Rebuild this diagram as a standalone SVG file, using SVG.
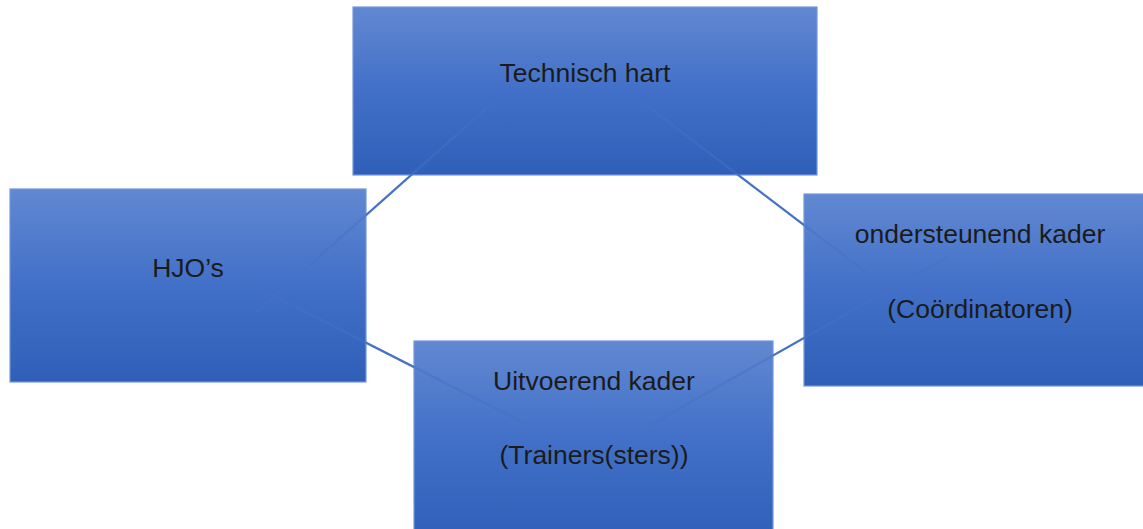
<svg xmlns="http://www.w3.org/2000/svg" width="1143" height="529" viewBox="0 0 1143 529">
<style>
.box{fill:url(#g);stroke:#7297da;stroke-width:1.2}
.lbl{font-family:"Liberation Sans",Arial,sans-serif;font-size:26.5px;fill:#1b1b1b;text-anchor:middle}
.con{fill:none;stroke:#4472c4;stroke-width:2.3}
</style>
<defs>
<linearGradient id="g" x1="0" y1="0" x2="0" y2="1">
<stop offset="0" stop-color="#6188d1"/>
<stop offset="0.5" stop-color="#4270c8"/>
<stop offset="1" stop-color="#2f5fb8"/>
</linearGradient>
<mask id="m" maskUnits="userSpaceOnUse" x="0" y="0" width="1143" height="529">
<rect x="0" y="0" width="1143" height="529" fill="#fff"/>
<rect x="353" y="7" width="464" height="168" fill="#808080"/>
<rect x="10" y="189" width="356" height="193" fill="#808080"/>
<rect x="414" y="341" width="359" height="200" fill="#808080"/>
<rect x="804" y="194" width="345" height="192" fill="#808080"/>
</mask>
</defs>
<rect x="0" y="0" width="1143" height="529" fill="#fff"/>
<g id="technisch-hart">
<rect class="box" x="353" y="7" width="464" height="168"/>
<text class="lbl" x="585" y="82">Technisch hart</text>
</g>
<g id="hjos">
<rect class="box" x="10" y="189" width="356" height="193"/>
<text class="lbl" x="188" y="277">HJO’s</text>
</g>
<g id="uitvoerend-kader">
<rect class="box" x="414" y="341" width="359" height="200"/>
<text class="lbl" x="594" y="390">Uitvoerend kader</text>
<text class="lbl" x="594" y="464">(Trainers(sters))</text>
</g>
<g id="ondersteunend-kader">
<rect class="box" x="804" y="194" width="345" height="192"/>
<text class="lbl" x="980" y="243">ondersteunend kader</text>
<text class="lbl" x="980" y="318">(Coördinatoren)</text>
</g>
<g id="connectors" mask="url(#m)">
<line class="con" x1="257" y1="312" x2="499" y2="97"/>
<line class="con" x1="633" y1="95" x2="900" y2="298"/>
<line class="con" x1="231" y1="274" x2="528" y2="425"/>
<line class="con" x1="645" y1="428" x2="947" y2="257"/>
</g>
</svg>
